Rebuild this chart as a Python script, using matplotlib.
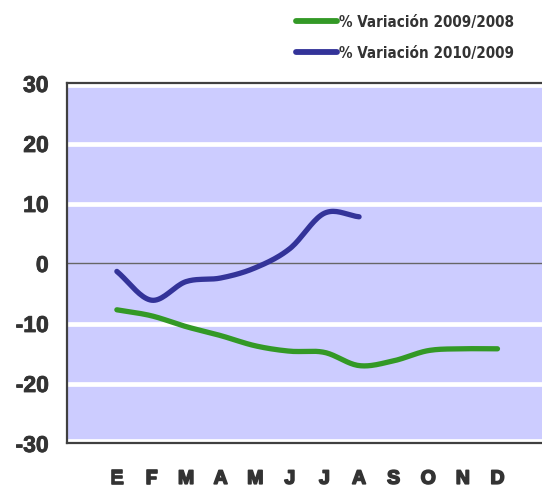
import numpy as np
import matplotlib
matplotlib.use("Agg")
import matplotlib.pyplot as plt
import matplotlib.patheffects as pe
from matplotlib import font_manager as fm

# ---- data ----
months = ["E", "F", "M", "A", "M", "J", "J", "A", "S", "O", "N", "D"]
var_2009_2008 = [-7.8, -8.8, -10.6, -12.1, -13.8, -14.7, -14.9, -17.1, -16.3, -14.6, -14.3, -14.3]
var_2010_2009 = [-1.4, -6.2, -3.1, -2.5, -0.8, 2.4, 8.3, 7.7]
series_labels = ["% Variación 2009/2008", "% Variación 2010/2009"]
y_ticks = [-30, -20, -10, 0, 10, 20, 30]

GREEN = "#339926"
BLUE = "#333399"

# look for a condensed / narrow bold face for the legend
narrow = None
for f in fm.fontManager.ttflist:
    n = f.name.lower()
    if ("narrow" in n or "condensed" in n or f.stretch in ("condensed", "semi-condensed")):
        if narrow is None or (f.weight in ("bold", 700) and narrow.weight not in ("bold", 700)):
            narrow = f
legend_family = [narrow.name, "Liberation Sans"] if narrow else ["Liberation Sans"]
legend_stretch = "condensed" if narrow else "normal"


def smooth(xs, ys, n=20):
    """Catmull-Rom rendering of a polyline (like Excel's smoothed line)."""
    p = np.column_stack([xs, ys]).astype(float)
    p = np.vstack([2 * p[0] - p[1], p, 2 * p[-1] - p[-2]])
    out = []
    for i in range(1, len(p) - 2):
        p0, p1, p2, p3 = p[i - 1], p[i], p[i + 1], p[i + 2]
        t = np.linspace(0, 1, n, endpoint=False)[:, None]
        seg = 0.5 * ((2 * p1) + (-p0 + p2) * t + (2 * p0 - 5 * p1 + 4 * p2 - p3) * t ** 2
                     + (-p0 + 3 * p1 - 3 * p2 + p3) * t ** 3)
        out.append(seg)
    out.append(p[-2][None, :])
    out = np.vstack(out)
    return out[:, 0], out[:, 1]


fig = plt.figure(figsize=(5.42, 4.89), dpi=100)
W, H = 542, 489
x0, x1 = -1.45, 13.0
px_per_unit = 34.6
left_px, top_px, bot_px = 66.7, 84, 444
ax = fig.add_axes([left_px / W, (H - bot_px) / H,
                   (x1 - x0) * px_per_unit / W, (bot_px - top_px) / H])
ax.set_facecolor("#CCCCFF")
ax.set_xlim(x0, x1)
ax.set_ylim(-30, 30)

# grid lines
for v in y_ticks:
    if v == 0:
        ax.axhline(v, color="#666666", lw=1.0, zorder=2)
    else:
        off = -0.35 if v == 30 else (0.35 if v == -30 else -0.1)
        ax.axhline(v + off, color="white", lw=3.4, zorder=1)

xs = np.arange(len(months))
sx, sy = smooth(xs, var_2009_2008)
l1, = ax.plot(sx, sy, color=GREEN, lw=3.8, solid_capstyle="round", zorder=3,
              label=series_labels[0])
bx = np.arange(len(var_2010_2009))
sx2, sy2 = smooth(bx, var_2010_2009)
l2, = ax.plot(sx2, sy2, color=BLUE, lw=3.8, solid_capstyle="round", zorder=3,
              label=series_labels[1])

for s in ["left", "top", "bottom"]:
    ax.spines[s].set_color("#404040")
    ax.spines[s].set_linewidth(1.6)
ax.spines["right"].set_visible(False)

ax.set_yticks(y_ticks)
ax.set_yticklabels([str(v) for v in y_ticks], fontfamily="Liberation Sans",
                   fontweight="bold", fontsize=16.5, color="#333333")
for t in ax.get_yticklabels():
    t.set_path_effects([pe.withStroke(linewidth=0.6, foreground="#333333")])
ax.tick_params(axis="y", length=0, pad=13)
ax.set_xticks(xs)
ax.set_xticklabels(months, fontfamily="Liberation Sans", fontweight="bold",
                   fontsize=14, color="#333333")
for t in ax.get_xticklabels():
    t.set_path_effects([pe.withStroke(linewidth=1.2, foreground="#333333")])
ax.tick_params(axis="x", length=0, pad=20)

leg = fig.legend(handles=[l1, l2], labels=series_labels, loc="upper left",
                 bbox_to_anchor=(296 / W, 1 - 15 / H), frameon=False,
                 prop={"family": legend_family, "weight": "bold", "size": 10.9,
                       "stretch": legend_stretch},
                 handlelength=2.7, handletextpad=0.12, labelspacing=1.05,
                 borderpad=0, borderaxespad=0)
for t in leg.get_texts():
    t.set_color("#333333")
for h in leg.get_lines():
    h.set_linewidth(4.2)
    h.set_solid_capstyle("round")

fig.savefig("out.png", dpi=100)
